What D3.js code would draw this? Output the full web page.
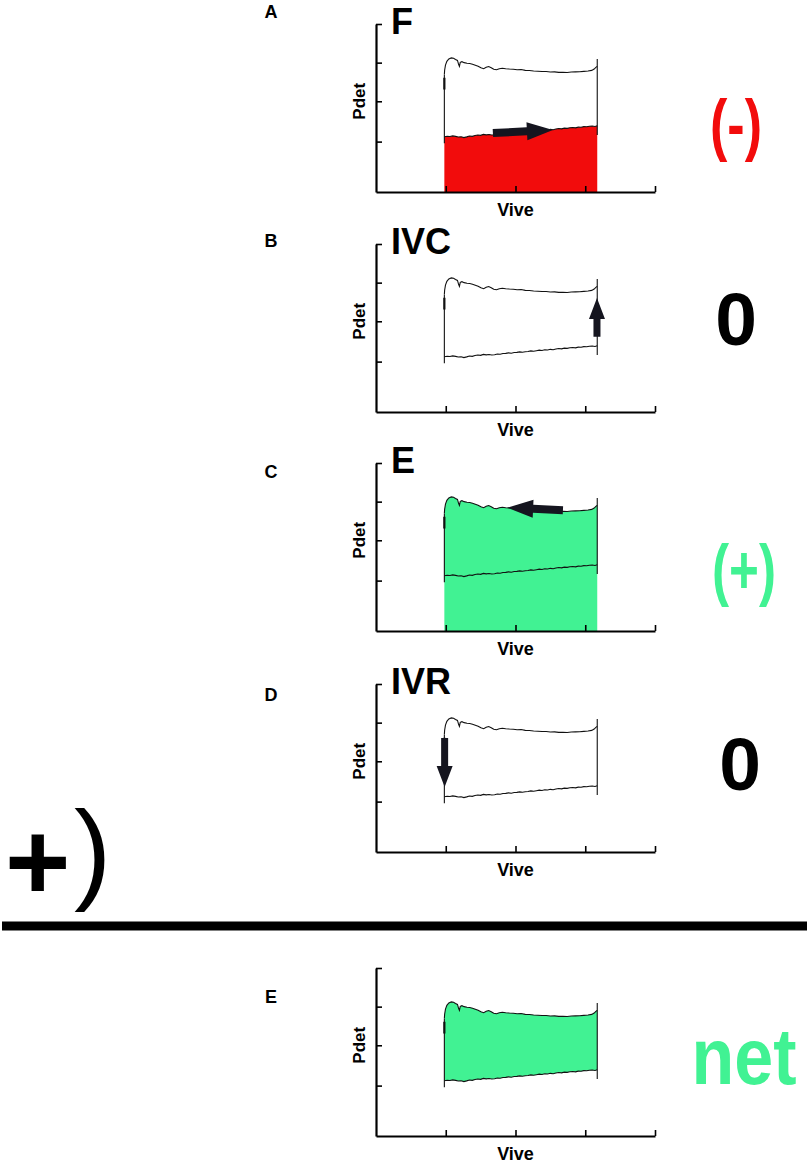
<!DOCTYPE html>
<html>
<head>
<meta charset="utf-8">
<script src="https://cdn.jsdelivr.net/npm/d3@7"></script>
<style>
  body { margin: 0; background: #fff; }
  text { font-family: "Liberation Sans", Arial, sans-serif; font-weight: bold; }
</style>
</head>
<body>
<div id="my_viz"></div>
<script>
var width = 809,
    height = 1165;

// what each panel shows
var panelIds = ["A", "B", "C", "D", "E"];
var phaseNames = ["F", "IVC", "E", "IVR", ""];
var workSigns = ["(-)", "0", "(+)", "0", "net"];
var fillModes = ["below", "none", "under", "none", "loop"];

var xTicks = [25, 50, 75, 100];
var yTicks = [30, 54, 77, 100];

// pressure-volume trace: [volume, pressure]
var upperTrace = [
    [24.5, 70], [24.6, 72.5], [24.9, 75.5], [25.4, 77.8], [26.1, 79.2], [27.0, 79.8],
    [27.8, 79.6], [28.5, 78.9], [29.2, 78.3], [29.6, 76.0], [29.9, 74.8], [30.2, 77.2],
    [30.8, 77.6], [31.6, 77.0], [32.6, 76.6], [33.6, 76.5], [34.6, 76.0], [35.6, 75.4],
    [36.6, 74.8], [37.6, 73.9], [38.6, 73.4], [39.5, 74.2], [40.4, 74.7], [41.3, 74.0],
    [42.2, 73.1], [43.2, 72.8], [44.2, 73.4], [45.3, 73.7], [46.5, 73.4], [47.8, 73.2],
    [49.2, 73.1], [50.6, 72.8], [52.0, 72.9], [53.5, 72.4], [55.0, 72.3], [56.5, 72.0],
    [58.0, 71.9], [59.5, 71.7], [61.0, 71.7], [62.5, 71.4], [64.0, 71.5], [65.5, 71.2],
    [67.0, 71.3], [68.5, 71.1], [70.0, 71.4], [71.5, 71.5], [73.0, 71.6], [74.5, 71.8],
    [76.0, 72.0], [77.3, 72.4], [78.2, 73.2], [78.8, 74.2], [79.3, 74.8]
];

var lowerTrace = [
    [24.5, 32.9], [25.5, 33.2], [26.5, 33.0], [27.5, 33.4], [28.5, 33.1], [29.5, 32.7],
    [30.5, 32.9], [31.5, 32.4], [32.5, 32.8], [33.5, 33.3], [34.5, 33.1], [35.5, 33.6],
    [36.5, 33.9], [37.5, 33.7], [38.5, 34.3], [39.5, 34.0], [40.5, 34.2], [41.5, 33.9],
    [42.5, 34.1], [43.5, 34.5], [44.5, 34.4], [45.5, 34.8], [46.5, 34.9], [47.5, 35.2],
    [48.5, 35.0], [49.5, 35.4], [50.5, 35.5], [51.5, 35.8], [52.5, 35.6], [53.5, 35.9],
    [54.5, 36.0], [55.5, 36.4], [56.5, 36.2], [57.5, 36.5], [58.5, 36.8], [59.5, 36.6],
    [60.5, 37.0], [61.5, 36.9], [62.5, 37.3], [63.5, 37.1], [64.5, 37.5], [65.5, 37.8],
    [66.5, 37.6], [67.5, 38.0], [68.5, 37.9], [69.5, 38.2], [70.5, 38.4], [71.5, 38.2],
    [72.5, 38.6], [73.5, 38.5], [74.5, 38.9], [75.5, 38.8], [76.5, 39.1], [77.5, 39.3],
    [78.5, 39.0], [79.3, 39.4]
];

var leftEdge = [[24.5, 29], [24.5, 70]];
var leftEdgeThick = [[24.5, 61], [24.5, 68]];
var rightEdge = [[79.3, 33.9], [79.3, 79.2]];

// arrows per panel: [tail, tip] in [volume, pressure]
var arrows = [
    [[41.9, 35.1], [63.4, 36.9]],
    [[79.2, 44.8], [79.2, 67.9]],
    [[67.0, 71.9], [47.0, 73.4]],
    [[24.6, 67.9], [24.6, 38.7]],
    null
];

// layout
var panelLeft = 376, panelW = 279, panelH = 168;
var panelTop = [24, 244, 463, 684, 968];
var idY = [18, 247, 478, 701, 1003];
var signX = [736, 736, 744, 740, 744];
var signY = [148, 345, 593, 790, 1084];
var signSize = [68, 75, 68, 75, 79];
var signWidth = [52, null, 64, null, 105];
var signColor = ["#f20c0c", "#000", "#41f293", "#000", "#41f293"];
var red = "#f20c0c", green = "#41f293", arrowColor = "#15151f";

var svg = d3.select("#my_viz")
    .append("svg")
    .attr("width", width)
    .attr("height", height)
    .style("background", "white");

var x = d3.scaleLinear().domain([0, 100]).range([0, panelW]);
var y = d3.scaleLinear().domain([0, 100]).range([panelH, 0]);

var line = d3.line()
    .x(function (d) { return x(d[0]); })
    .y(function (d) { return y(d[1]); });

var areaToZero = d3.area()
    .x(function (d) { return x(d[0]); })
    .y0(y(0))
    .y1(function (d) { return y(d[1]); });

function arrowPoints(a, horizontal) {
    var p0 = [x(a[0][0]), y(a[0][1])],
        p1 = [x(a[1][0]), y(a[1][1])];
    var shaft = horizontal ? 8 : 7,
        head = horizontal ? 18 : 16,
        headLen = horizontal ? 26 : 21;
    var dx = p1[0] - p0[0], dy = p1[1] - p0[1];
    var len = Math.sqrt(dx * dx + dy * dy);
    var ux = dx / len, uy = dy / len, nx = -uy, ny = ux;
    var bx = p1[0] - ux * headLen, by = p1[1] - uy * headLen;
    return [
        [p0[0] + nx * shaft / 2, p0[1] + ny * shaft / 2],
        [bx + nx * shaft / 2, by + ny * shaft / 2],
        [bx + nx * head / 2, by + ny * head / 2],
        p1,
        [bx - nx * head / 2, by - ny * head / 2],
        [bx - nx * shaft / 2, by - ny * shaft / 2],
        [p0[0] - nx * shaft / 2, p0[1] - ny * shaft / 2]
    ];
}

panelIds.forEach(function (id, i) {
    var g = svg.append("g")
        .attr("transform", "translate(" + panelLeft + "," + panelTop[i] + ")");

    // work fill
    if (fillModes[i] === "below") {
        g.append("path").datum(lowerTrace).attr("d", areaToZero).attr("fill", red);
    } else if (fillModes[i] === "under") {
        g.append("path").datum(upperTrace).attr("d", areaToZero).attr("fill", green);
    } else if (fillModes[i] === "loop") {
        var loop = lowerTrace.concat(upperTrace.slice().reverse());
        g.append("path").datum(loop).attr("d", function (d) { return line(d) + "Z"; })
            .attr("fill", green);
    }

    // axes
    var yAxis = g.append("g")
        .call(d3.axisLeft(y).tickValues(yTicks).tickSize(-6).tickSizeOuter(0).tickFormat(""));
    var xAxis = g.append("g")
        .attr("transform", "translate(0," + panelH + ")")
        .call(d3.axisBottom(x).tickValues(xTicks).tickSize(-6).tickSizeOuter(0).tickFormat(""));
    [yAxis, xAxis].forEach(function (ax) {
        ax.select(".domain").attr("stroke", "#000").attr("stroke-width", 2.2);
        ax.selectAll(".tick line").attr("stroke", "#000").attr("stroke-width", 1.6);
    });

    // traces
    [upperTrace, lowerTrace, leftEdge, rightEdge].forEach(function (tr) {
        g.append("path").datum(tr).attr("d", line)
            .attr("fill", "none").attr("stroke", "#111").attr("stroke-width", 1.1);
    });
    g.append("path").datum(leftEdgeThick).attr("d", line)
        .attr("fill", "none").attr("stroke", "#111").attr("stroke-width", 2.2);

    // arrow
    if (arrows[i]) {
        var horiz = Math.abs(arrows[i][0][0] - arrows[i][1][0]) > 1;
        g.append("path").datum(arrowPoints(arrows[i], horiz))
            .attr("d", function (d) { return d3.line()(d) + "Z"; })
            .attr("fill", arrowColor);
    }

    // axis titles
    g.append("text")
        .attr("transform", "translate(-11," + y(54) + ") rotate(-90)")
        .attr("text-anchor", "middle")
        .attr("font-size", 17)
        .text("Pdet");
    g.append("text")
        .attr("x", x(50)).attr("y", panelH + 24)
        .attr("text-anchor", "middle")
        .attr("font-size", 18)
        .text("Vive");

    // phase name
    if (phaseNames[i]) {
        g.append("text")
            .attr("x", 15).attr("y", 10)
            .attr("font-size", 36)
            .text(phaseNames[i]);
    }

    // panel letter
    svg.append("text")
        .attr("x", 271).attr("y", idY[i])
        .attr("text-anchor", "middle")
        .attr("font-size", 18)
        .text(id);

    // work sign on the right
    var s = svg.append("text")
        .attr("x", signX[i]).attr("y", signY[i])
        .attr("text-anchor", "middle")
        .attr("font-size", signSize[i])
        .attr("fill", signColor[i])
        .text(workSigns[i]);
    if (signWidth[i]) {
        s.attr("textLength", signWidth[i]).attr("lengthAdjust", "spacingAndGlyphs");
    }
});

// sum sign and rule
svg.append("text")
    .attr("x", 5).attr("y", 900)
    .attr("font-size", 112)
    .text("+");
svg.append("text")
    .attr("x", 74).attr("y", 889)
    .attr("font-size", 112)
    .style("font-weight", "normal")
    .text(")");
svg.append("rect")
    .attr("x", 2).attr("y", 921.5)
    .attr("width", 805).attr("height", 9)
    .attr("fill", "#000");
</script>
</body>
</html>
